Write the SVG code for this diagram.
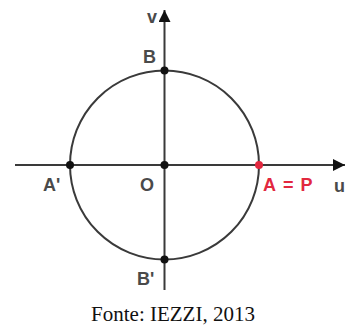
<svg xmlns="http://www.w3.org/2000/svg" width="345" height="326" viewBox="0 0 345 326">
<style>
.ax{stroke:#3a3a3a;stroke-width:2;fill:none}
.lbl{font-family:"Liberation Sans",Arial,sans-serif;font-weight:bold;font-size:18px;fill:#4a4a4a}
.red{fill:#e2283f}
.dot{fill:#111}
</style>
<defs>
<marker id="arr" viewBox="0 0 10 10" refX="10" refY="5" markerWidth="6" markerHeight="6" orient="auto" markerUnits="strokeWidth">
<path d="M0,0 L10,5 L0,10 z" fill="#111"/>
</marker>
</defs>
<rect width="345" height="326" fill="#fff"/>
<g id="connectors">
<line class="ax" x1="15" y1="165" x2="345" y2="165" marker-end="url(#arr)"/>
<line class="ax" x1="164.5" y1="290" x2="164.5" y2="10" marker-end="url(#arr)"/>
<circle class="ax" cx="164.5" cy="165" r="94.5" stroke="#444"/>
</g>
<g id="O"><circle class="dot" cx="164.5" cy="165" r="4"/><text class="lbl" x="140" y="191">O</text></g>
<g id="A"><circle class="red" cx="259" cy="165" r="4"/><text class="lbl red" x="263" y="191">A<tspan dx="7">=</tspan><tspan dx="7">P</tspan></text></g>
<g id="Aprime"><circle class="dot" cx="70" cy="165" r="4"/><text class="lbl" x="43" y="191">A'</text></g>
<g id="B"><circle class="dot" cx="164.5" cy="70.5" r="4"/><text class="lbl" x="143" y="63">B</text></g>
<g id="Bprime"><circle class="dot" cx="164.5" cy="259.5" r="4"/><text class="lbl" x="137" y="285">B'</text></g>
<g id="v"><text class="lbl" x="147" y="23">v</text></g>
<g id="u"><text class="lbl" x="334" y="192">u</text></g>
<text x="173" y="321" text-anchor="middle" font-family="Liberation Serif,'Times New Roman',serif" font-size="21" fill="#111">Fonte: IEZZI, 2013</text>
</svg>
